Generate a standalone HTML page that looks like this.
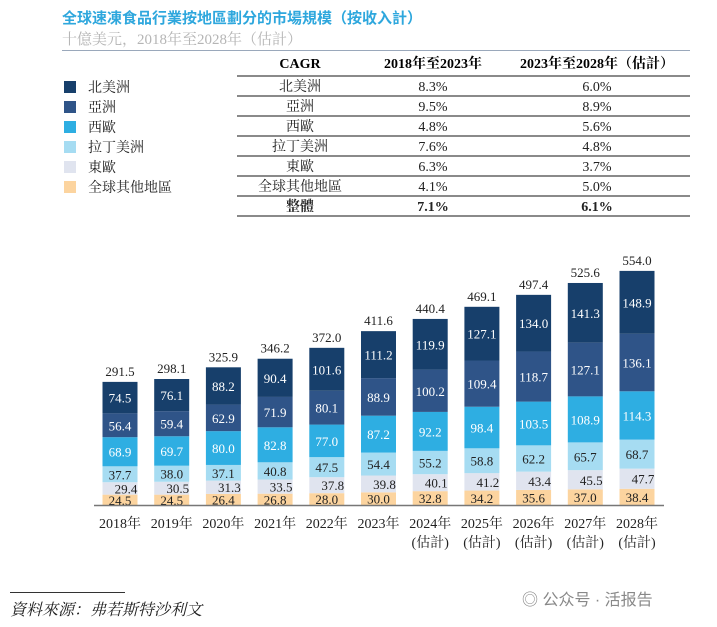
<!DOCTYPE html>
<html><head><meta charset="utf-8"><style>
body{margin:0;background:#fff;width:717px;height:627px;overflow:hidden;position:relative;font-family:"Liberation Serif","Noto Serif CJK SC",serif;}
.t{position:absolute;white-space:nowrap}
</style></head><body>
<div class="t" style="left:62px;top:7px;font-size:15px;color:#2ea7dd;font-family:'Liberation Sans','Noto Sans CJK SC',sans-serif;font-weight:bold">全球速凍食品行業按地區劃分的市場規模（按收入計）</div>
<div class="t" style="left:62px;top:28px;font-size:15px;color:#b5b5b5">十億美元，2018年至2028年（估計）</div>
<div style="position:absolute;left:62px;top:50px;width:628px;height:1px;background:#9aa8bb"></div>
<svg id="tbl" width="717" height="627" style="position:absolute;left:0;top:0"></svg>
<svg id="ch" width="717" height="627" style="position:absolute;left:0;top:0"></svg>
<div style="position:absolute;left:10px;top:592px;width:115px;height:1px;background:#333"></div>
<div class="t" style="left:10px;top:597px;font-size:16px;font-style:italic;color:#222">資料來源：弗若斯特沙利文</div>
<div class="t" style="left:522px;top:586px;font-size:16px;color:#888;font-family:'Liberation Sans','Noto Sans CJK SC',sans-serif">◎ 公众号 · 活报告</div>
<script>
const regions=["北美洲","亞洲","西歐","拉丁美洲","東歐","全球其他地區"];
const cagr1=["8.3%","9.5%","4.8%","7.6%","6.3%","4.1%"];
const cagr2=["6.0%","8.9%","5.6%","4.8%","3.7%","5.0%"];
const totalC=["7.1%","6.1%"];
const years=["2018年","2019年","2020年","2021年","2022年","2023年","2024年","2025年","2026年","2027年","2028年"];
const estimated=[0,0,0,0,0,0,1,1,1,1,1];
const other=[24.5,24.5,26.4,26.8,28.0,30.0,32.8,34.2,35.6,37.0,38.4];
const eastEu=[29.4,30.5,31.3,33.5,37.8,39.8,40.1,41.2,43.4,45.5,47.7];
const latAm=[37.7,38.0,37.1,40.8,47.5,54.4,55.2,58.8,62.2,65.7,68.7];
const westEu=[68.9,69.7,80.0,82.8,77.0,87.2,92.2,98.4,103.5,108.9,114.3];
const asia=[56.4,59.4,62.9,71.9,80.1,88.9,100.2,109.4,118.7,127.1,136.1];
const northAm=[74.5,76.1,88.2,90.4,101.6,111.2,119.9,127.1,134.0,141.3,148.9];
const totals=[291.5,298.1,325.9,346.2,372.0,411.6,440.4,469.1,497.4,525.6,554.0];
const colors=["#173f6b","#2f5488","#2eaee2","#a6dcf2","#e0e4ef","#fcd49f"];
const NS="http://www.w3.org/2000/svg";
function mk(p,tag,a,txt){const e=document.createElementNS(NS,tag);for(const k in a)e.setAttribute(k,a[k]);if(txt!=null)e.textContent=txt;p.appendChild(e);return e;}
// table + legend
const tb=document.getElementById('tbl');
const F='"Liberation Serif","Noto Serif CJK SC",serif';
let h=mk(tb,'text',{x:300,y:68,'text-anchor':'middle','font-size':14,'font-weight':'bold','font-family':F},"CAGR");

h=mk(tb,'text',{x:433,y:68,'text-anchor':'middle','font-size':14,'font-weight':'bold','font-family':F},"2018年至2023年");

h=mk(tb,'text',{x:597,y:68,'text-anchor':'middle','font-size':14,'font-weight':'bold','font-family':F},"2023年至2028年（估計）");

for(let i=0;i<=7;i++){const l=mk(tb,'line',{x1:237,x2:690,y1:76+i*20,y2:76+i*20,stroke:'#444','stroke-width':1.2});}
const rows=regions.map((r,i)=>[r,cagr1[i],cagr2[i]]).concat([["整體",totalC[0],totalC[1]]]);
rows.forEach((r,i)=>{const y=91+i*20,b=i==6?'bold':'normal';
 [300,433,597].forEach((x,j)=>{const t=mk(tb,'text',{x:x,y:y,'text-anchor':'middle','font-size':14,'font-weight':b,'font-family':F,fill:'#222'},r[j]);});
 if(i<6){const s=mk(tb,'rect',{x:64,y:81+i*20,width:12,height:12,fill:colors[i]});
 const t=mk(tb,'text',{x:88,y:92+i*20,'font-size':14,'font-family':F,fill:'#222'},regions[i]);}
});
// chart
const ch=document.getElementById('ch');
const base=505,k=0.4225,x0=120,step=51.7,bw=35;
const X=i=>x0+i*step, H=v=>v*k;
const series=[other,eastEu,latAm,westEu,asia,northAm];
const sc=[5,4,3,2,1,0];
years.forEach((yr,i)=>{let y=base;
 series.forEach((s,j)=>{const hh=H(s[i]);y-=hh;const c=sc[j];
  const r=mk(ch,'rect',{x:X(i)-bw/2,y:y,width:bw,height:hh,fill:colors[c]});
  const dx=c==4?6:0;
  const t=mk(ch,'text',{x:X(i)+dx,y:y+hh/2+5,'text-anchor':'middle','font-size':13,'font-family':F,fill:c<3?'#fff':'#222'},s[i].toFixed(1));
 });
 const t=mk(ch,'text',{x:X(i),y:base-H(totals[i])-6,'text-anchor':'middle','font-size':13,'font-family':F,fill:'#222'},totals[i].toFixed(1));
 const yl=mk(ch,'text',{x:X(i),y:528,'text-anchor':'middle','font-size':14,'font-family':F,fill:'#222'},yr);
 if(estimated[i]){const e=mk(ch,'text',{x:X(i),y:547,'text-anchor':'middle','font-size':14,'font-family':F,fill:'#222'},"(估計)");}
});
const ax=mk(ch,'line',{x1:94,x2:664,y1:base+0.5,y2:base+0.5,stroke:'#777','stroke-width':1.5});
</script>
</body></html>
